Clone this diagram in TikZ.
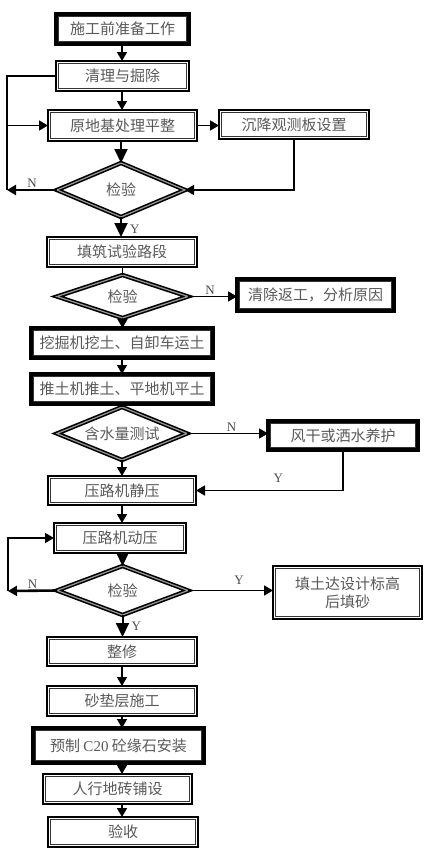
\documentclass[tikz,border=0pt]{standalone}
\usepackage{fontspec}
\setmainfont{Liberation Serif}
\newfontfamily\cjk{Noto Sans CJK SC}
\usetikzlibrary{shapes.geometric, arrows.meta}

\begin{document}
\begin{tikzpicture}[x=1pt, y=-1pt,
  procbox/.style={draw, line width=2.4pt, outer sep=0pt, inner sep=0pt, text=black!65, font=\cjk\fontsize{15}{18}\selectfont,
    path picture={\draw[line width=0.7pt, black!80] ([shift={(2.7pt,-2.7pt)}]path picture bounding box.north west) rectangle ([shift={(-2.7pt,2.7pt)}]path picture bounding box.south east);}},
  heavy/.style={line width=3.6pt},
  decbox/.style={diamond, draw, line width=1.6pt, double=black!40, double distance=1.2pt, aspect=2.4, inner sep=0pt, outer sep=0pt, text=black!65, font=\cjk\fontsize{15}{18}\selectfont},
  arr/.style={-{Triangle[length=9pt, width=10pt]}, line width=1.6pt},
  bigarr/.style={-{Triangle[length=14pt, width=13pt]}, line width=2pt},
  conn/.style={line width=1.4pt},
  lab/.style={font=\fontsize{13}{15}\selectfont, text=black!70, inner sep=1pt}]
  \useasboundingbox (0,0) rectangle (446,862);
  \coordinate (spine) at (122,0);
  \node[procbox, heavy, minimum width=133, minimum height=30] (n1) at (122.5,29) {施工前准备工作};
  \node[procbox, minimum width=133, minimum height=30] (n2) at (122.5,76) {清理与掘除};
  \node[procbox, minimum width=149, minimum height=31] (n3) at (122.5,125.5) {原地基处理平整};
  \node[procbox, minimum width=150, minimum height=29] (n4) at (294,124.5) {沉降观测板设置};
  \node[decbox, minimum width=128, minimum height=54] (d1) at (121,190) {检验};
  \node[procbox, minimum width=150, minimum height=30] (n5) at (122,252) {填筑试验路段};
  \node[decbox, minimum width=131, minimum height=43] (d2) at (122.5,296.5) {检验};
  \node[procbox, heavy, minimum width=157, minimum height=32] (n6) at (315.5,295) {清除返工，分析原因};
  \node[procbox, heavy, minimum width=182, minimum height=30] (n7) at (122,343) {挖掘机挖土、自卸车运土};
  \node[procbox, heavy, minimum width=182, minimum height=30] (n8) at (122,389) {推土机推土、平地机平土};
  \node[decbox, minimum width=130, minimum height=53] (d3) at (122,433.5) {含水量测试};
  \node[procbox, heavy, minimum width=150, minimum height=29] (n9) at (343,435.5) {风干或洒水养护};
  \node[procbox, minimum width=148, minimum height=29] (n10) at (122,490.5) {压路机静压};
  \node[procbox, minimum width=132, minimum height=30] (n11) at (120,538) {压路机动压};
  \node[decbox, minimum width=131, minimum height=49] (d4) at (122.5,590.5) {检验};
  \node[procbox, minimum width=149, minimum height=53, align=center] (n12) at (347.5,592.5) {填土达设计标高\\后填砂};
  \node[procbox, minimum width=150, minimum height=29] (n13) at (122,651.5) {整修};
  \node[procbox, minimum width=150, minimum height=30] (n14) at (122,701) {砂垫层施工};
  \node[procbox, heavy, minimum width=171, minimum height=35] (n15) at (118.5,745.5) {预制 {\rmfamily C20} 砼缘石安装};
  \node[procbox, minimum width=149, minimum height=30] (n16) at (117.5,789) {人行地砖铺设};
  \node[procbox, minimum width=150, minimum height=30] (n17) at (123,832) {验收};
  \foreach \a/\b in {n1/n2, n2/n3, n7/n8, n10/n11, n13/n14, n14/n15, n15/n16, n16/n17} { \draw[arr] (\a.south -| spine) -- (\b.north -| spine); }
  \draw[arr] (d2.south) -- (d2.south |- n7.north);
  \draw[arr] (d3.south) -- (d3.south |- n10.north);
  \draw[conn] (n5.south -| d2.north) -- (d2.north);
  \draw[conn] (n8.south -| d3.north) -- (d3.north);
  \draw[bigarr] (n3.south -| d1.north) -- (d1.north);
  \draw[bigarr] (d1.south) -- (d1.south |- n5.north) node[lab, pos=0.6, right=7pt]{Y};
  \draw[bigarr] (n11.south -| d4.north) -- (d4.north);
  \draw[bigarr] (d4.south) -- (d4.south |- n13.north) node[lab, pos=0.5, right=7pt]{Y};
  \draw[arr] (n3.east) -- (n3.east -| n4.west);
  \draw[arr] (n4.south) |- (d1.east);
  \draw[arr] (d2.east) -- (d2.east -| n6.west) node[lab, pos=0.45, above]{N};
  \draw[arr] (d3.east) -- (d3.east -| n9.west) node[lab, pos=0.55, above]{N};
  \draw[arr] (n9.south) |- (n10.east) node[lab, pos=0.72, above=6pt]{Y};
  \draw[arr] (d4.east) -- (d4.east -| n12.west) node[lab, pos=0.6, above=4pt]{Y};
  \coordinate (back1) at (7,190);
  \draw[conn] (n2.west) -| (back1);
  \draw[arr] (back1 |- n3.west) -- (n3.west);
  \draw[arr, line width=2.6pt] (d1.west) -- (back1) node[lab, pos=0.5, above]{N};
  \coordinate (back2) at (8,591);
  \draw[arr] (back2) |- (n11.west);
  \draw[arr, line width=2.6pt] (d4.west) -- (back2) node[lab, pos=0.5, above]{N};
\end{tikzpicture}
\end{document}
